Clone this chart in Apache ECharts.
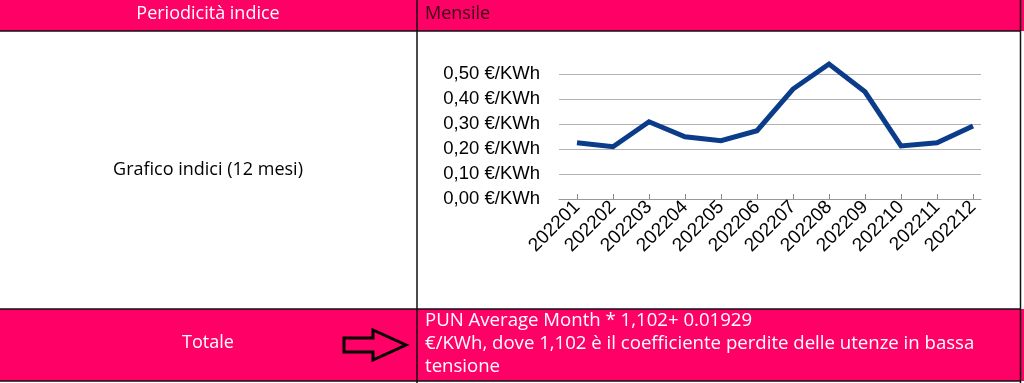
<!DOCTYPE html>
<html><head><meta charset="utf-8">
<script src="https://cdn.jsdelivr.net/npm/echarts@6/dist/echarts.min.js"></script>
<style>html,body{margin:0;padding:0;background:#fff}#c{width:1024px;height:383px}</style>
</head><body><div id="c"></div>
<script>
const months = ['202201','202202','202203','202204','202205','202206','202207','202208','202209','202210','202211','202212'];
const values = [0.225,0.209,0.309,0.249,0.233,0.273,0.440,0.540,0.429,0.212,0.225,0.292];
const headerLeft = 'Periodicità indice';
const headerRight = 'Mensile';
const rowLabel = 'Grafico indici (12 mesi)';
const totalLabel = 'Totale';
const totalText = 'PUN Average Month * 1,102+ 0.01929\n€/KWh, dove 1,102 è il coefficiente perdite delle utenze in bassa\ntensione';

const PINK = '#FF0066';
const FONT = '"Open Sans"';
const chart = echarts.init(document.getElementById('c'), null, {renderer:'canvas'});
const fmt = v => v.toFixed(2).replace('.', ',') + ' €/KWh';
chart.setOption({
  animation:false,
  grid:[
    {left:559, right:43, top:74, height:125},
    {left:577, right:51, top:74, height:125}
  ],
  xAxis:[
    {gridIndex:0, type:'category', data:months, axisLine:{show:true, lineStyle:{color:'#999', width:1}}, axisTick:{show:false}, axisLabel:{show:false}},
    {gridIndex:1, type:'category', data:months, boundaryGap:false, axisLine:{show:false},
     axisTick:{show:true, inside:true, length:5, alignWithLabel:true, lineStyle:{color:'#888'}},
     axisLabel:{rotate:45, fontSize:19, color:'#000', fontFamily:'Liberation Sans', margin:5, interval:0}}
  ],
  yAxis:[
    {gridIndex:0, type:'value', min:0, max:0.5, interval:0.1, axisLine:{show:false}, axisTick:{show:false},
     splitLine:{lineStyle:{color:'#b3b3b3', width:1}},
     axisLabel:{formatter:fmt, fontSize:18.5, color:'#000', fontFamily:'Liberation Sans', margin:19}},
    {gridIndex:1, type:'value', min:0, max:0.5, interval:0.1, show:false}
  ],
  series:[{type:'line', xAxisIndex:1, yAxisIndex:1, data:values, symbol:'none', clip:false,
    lineStyle:{color:'#0B3C8A', width:5, join:'miter'}}],
  graphic:[
    {type:'rect', z:-10, shape:{x:0,y:0,width:1024,height:31}, style:{fill:PINK}},
    {type:'rect', z:-10, shape:{x:0,y:309,width:1024,height:72}, style:{fill:PINK}},
    {type:'line', z:5, shape:{x1:0,y1:31,x2:1021,y2:31}, style:{stroke:'#111', lineWidth:1.5}},
    {type:'line', z:5, shape:{x1:0,y1:309,x2:1021,y2:309}, style:{stroke:'#111', lineWidth:1.5}},
    {type:'line', z:5, shape:{x1:0,y1:381,x2:1021,y2:381}, style:{stroke:'#111', lineWidth:1.5}},
    {type:'line', z:5, shape:{x1:417,y1:0,x2:417,y2:383}, style:{stroke:'#111', lineWidth:1.5}},
    {type:'line', z:5, shape:{x1:1020.5,y1:0,x2:1020.5,y2:383}, style:{stroke:'#111', lineWidth:1.5}},
    {type:'text', x:208, y:14, style:{text:headerLeft, fill:'#fff', font:'18px ' + FONT, align:'center', verticalAlign:'middle'}},
    {type:'text', x:425, y:14, style:{text:headerRight, fill:'#3a0018', font:'18px ' + FONT, align:'left', verticalAlign:'middle'}},
    {type:'text', x:208, y:170, style:{text:rowLabel, fill:'#000', font:'18px ' + FONT, align:'center', verticalAlign:'middle'}},
    {type:'text', x:208, y:343, style:{text:totalLabel, fill:'#fff', font:'500 18px ' + FONT, align:'center', verticalAlign:'middle'}},
    {type:'text', x:425, y:309, style:{text:totalText, fill:'#fff', font:'18.6px ' + FONT, align:'left', verticalAlign:'top', lineHeight:23}},
    {type:'polygon', z:6, shape:{points:[[344,338],[373,338],[373,330],[406,345],[373,360],[373,352],[344,352]]}, style:{fill:'none', stroke:'#000', lineWidth:3}}
  ]
});
</script></body></html>
